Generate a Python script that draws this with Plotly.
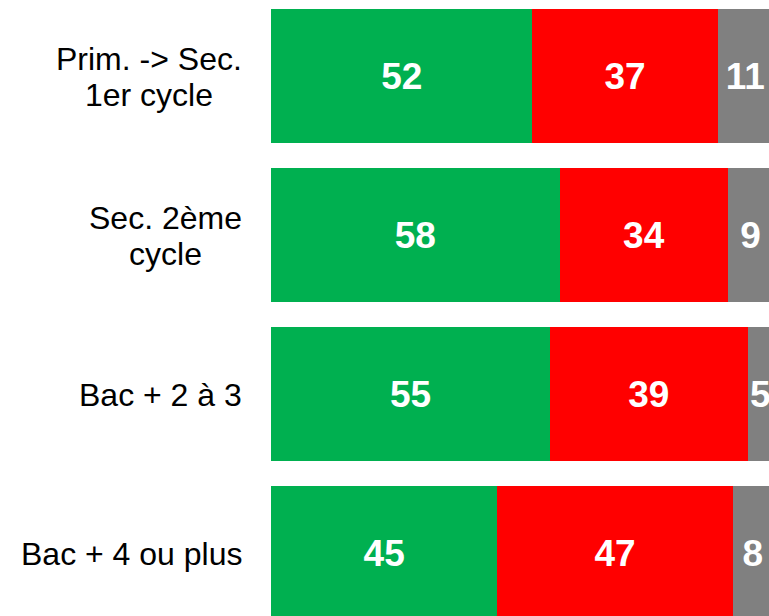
import plotly.graph_objects as go

categories = ["Prim. -> Sec.<br>1er cycle", "Sec. 2ème<br>cycle", "Bac + 2 à 3", "Bac + 4 ou plus"]
# bar lengths
green_vals = [52.1, 57.5, 55.6, 45.1]
red_vals = [36.9, 33.6, 39.4, 46.9]
gray_vals = [11.0, 8.9, 5.0, 8.0]
# labels as printed on the bars
green_labels = ["52", "58", "55", "45"]
red_labels = ["37", "34", "39", "47"]
gray_labels = ["11", "9", "5", "8"]

colors = ["#00B050", "#FF0000", "#808080"]
series = [(green_vals, green_labels), (red_vals, red_labels), (gray_vals, gray_labels)]

LABEL_SIZE = 32
LINE_GAP = 36  # target distance between label lines (plotly uses 1.3em)

ypos = list(range(len(categories)))
fig = go.Figure()
for (vals, labels), col in zip(series, colors):
    fig.add_trace(go.Bar(
        x=vals, y=ypos, orientation="h",
        marker=dict(color=col, line=dict(width=0)),
        text=labels,
        textposition="inside", insidetextanchor="middle",
        constraintext="none",
        textfont=dict(family="Liberation Sans", size=37, color="white", weight="bold"),
        hoverinfo="skip",
    ))

for i, c in enumerate(categories):
    lines = c.split("<br>")
    text = "<br>".join("<span style='font-size:%dpx'>%s</span>" % (LABEL_SIZE, l) for l in lines)
    fig.add_annotation(
        x=0, xref="paper", y=i, yref="y",
        text=text, showarrow=False,
        xanchor="right", yanchor="middle",
        align="center", xshift=-27, yshift=-1,
        font=dict(family="Liberation Sans", size=LINE_GAP / 1.3, color="black"),
    )

fig.update_layout(
    barmode="stack", bargap=0.155,
    width=769, height=616,
    margin=dict(l=271, r=0, t=0, b=0),
    plot_bgcolor="white", paper_bgcolor="white",
    showlegend=False,
    uniformtext=dict(mode=False),
    xaxis=dict(range=[0, 99.24], visible=False),
    yaxis=dict(range=[3.395, -0.479], visible=False),
)

fig.write_html("out.html", config={"displayModeBar": False},
               post_script="document.body.style.margin='0';")
